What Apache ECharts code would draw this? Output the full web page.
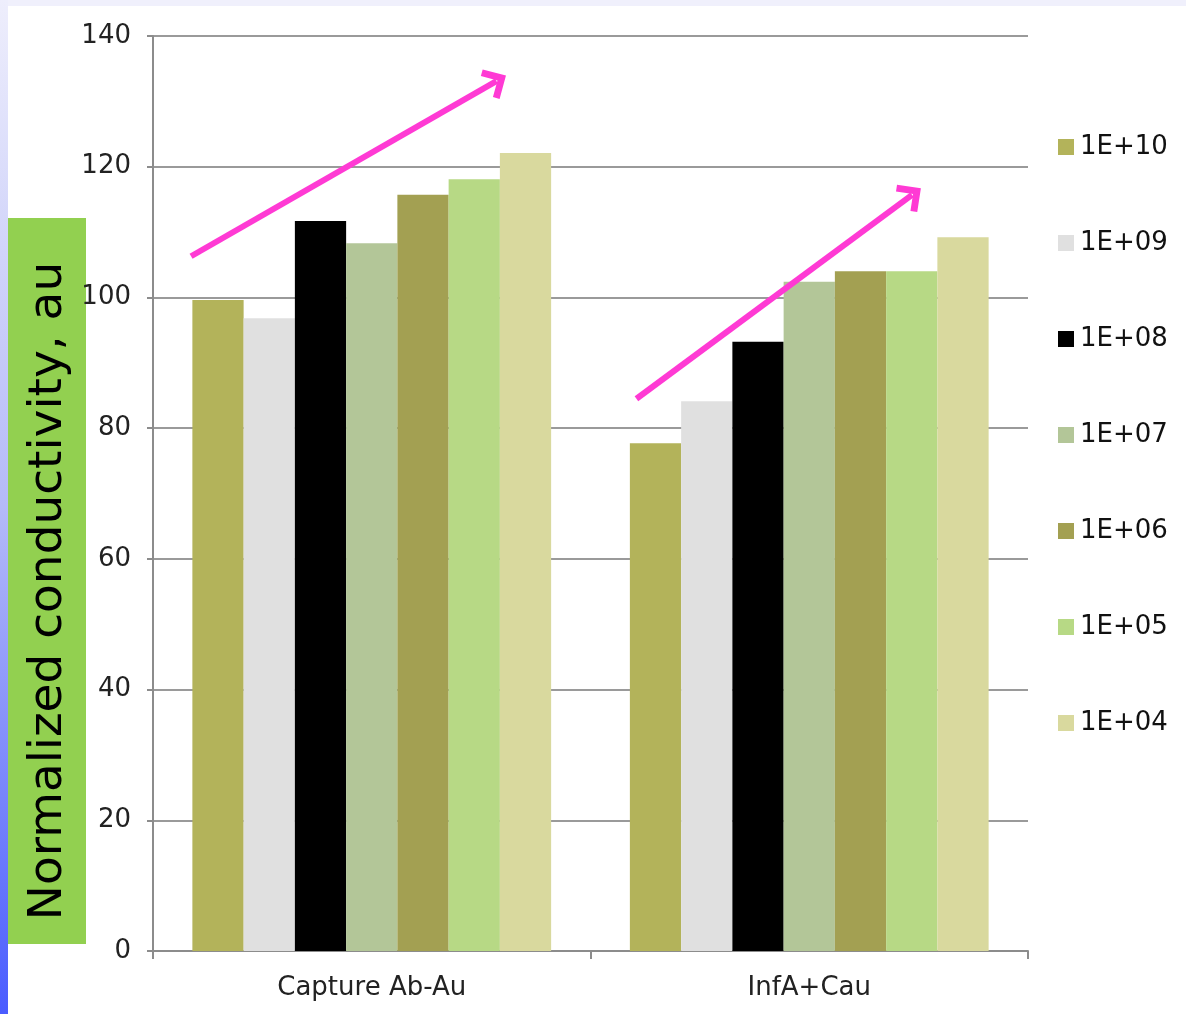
<!DOCTYPE html>
<html>
<head>
    <meta charset="utf-8">
    <title>Normalized conductivity</title>
    <script src="https://cdn.jsdelivr.net/npm/echarts@6/dist/echarts.min.js"></script>
    <style>
        html, body { margin: 0; padding: 0; }
    </style>
</head>
<body>
    <div id="main" style="width:1186px; height:1014px"></div>
    <script type="text/javascript">
        var categories = ['Capture Ab-Au', 'InfA+Cau'];
        var seriesNames = ['1E+10', '1E+09', '1E+08', '1E+07', '1E+06', '1E+05', '1E+04'];
        var seriesColors = ['#b3b35a', '#e0e0e0', '#000000', '#b3c698', '#a3a052', '#b7d985', '#d9d99e'];
        var captureValues = [99.6, 96.8, 111.7, 108.3, 115.7, 118.1, 122.1];
        var infaValues = [77.7, 84.1, 93.2, 102.4, 104.0, 104.0, 109.2];
        var yTicks = [0, 20, 40, 60, 80, 100, 120, 140];
        // trend arrows, x in category units (0..2), y in axis units
        var arrowCapture = [[0.087, 106.3], [0.785, 133.1]];
        var arrowInfa = [[1.105, 84.5], [1.735, 115.7]];

        var myChart = echarts.init(document.getElementById('main'));

        var series = seriesNames.map(function (name, i) {
            return {
                name: name,
                type: 'bar',
                barGap: '0%',
                barCategoryGap: '18%',
                itemStyle: { color: seriesColors[i] },
                emphasis: { disabled: true },
                data: [captureValues[i], infaValues[i]]
            };
        });

        series.push({
            name: 'arrows',
            type: 'line',
            xAxisIndex: 1,
            data: [arrowCapture[0], arrowInfa[0]],
            symbol: 'none',
            lineStyle: { width: 0, opacity: 0 },
            silent: true,
            markLine: {
                silent: true,
                symbol: ['none', 'path://M0,0 L14,14 L10,18 L0,8 L-10,18 L-14,14 Z'],
                symbolSize: [34, 22],
                label: { show: false },
                emphasis: { disabled: true },
                lineStyle: { color: '#ff3ad4', width: 6, type: 'solid' },
                itemStyle: { color: '#ff3ad4' },
                data: [
                    [{ coord: arrowCapture[0] }, { coord: arrowCapture[1] }],
                    [{ coord: arrowInfa[0] }, { coord: arrowInfa[1] }]
                ]
            }
        });

        var option = {
            backgroundColor: '#f0f0fc',
            animation: false,
            textStyle: { fontFamily: 'DejaVu Sans' },
            graphic: [
                {
                    type: 'rect', z: -10, silent: true,
                    shape: { x: 8, y: 6, width: 1178, height: 1008 },
                    style: { fill: '#ffffff' }
                },
                {
                    type: 'rect', z: -10, silent: true,
                    shape: { x: 0, y: 0, width: 8, height: 1014 },
                    style: {
                        fill: new echarts.graphic.LinearGradient(0, 0, 0, 1, [
                            { offset: 0, color: '#eeeefc' },
                            { offset: 0.5, color: '#b4baf8' },
                            { offset: 1, color: '#4a5cff' }
                        ])
                    }
                },
                {
                    type: 'rect', silent: true,
                    shape: { x: 8, y: 218, width: 78, height: 726 },
                    style: { fill: '#92d050' }
                },
                {
                    type: 'text', silent: true,
                    x: 49, y: 591,
                    rotation: Math.PI / 2,
                    style: {
                        text: 'Normalized conductivity, au',
                        fontFamily: 'DejaVu Sans',
                        fontSize: 47,
                        fill: '#000000',
                        align: 'center',
                        verticalAlign: 'middle'
                    }
                }
            ],
            legend: {
                orient: 'vertical',
                left: 1058,
                top: 134,
                padding: 0,
                itemWidth: 16,
                itemHeight: 16,
                itemGap: 70,
                icon: 'rect',
                selectedMode: false,
                data: seriesNames,
                textStyle: {
                    fontFamily: 'DejaVu Sans',
                    fontSize: 26,
                    lineHeight: 26,
                    color: '#111111',
                    padding: [0, 0, 0, 1]
                }
            },
            grid: {
                left: 153,
                right: 158,
                top: 36,
                bottom: 63,
                containLabel: false
            },
            xAxis: [
                {
                    type: 'category',
                    data: categories,
                    boundaryGap: true,
                    axisLine: { lineStyle: { color: '#8c8c8c', width: 2 } },
                    axisTick: { show: true, length: 8, lineStyle: { color: '#8c8c8c', width: 2 } },
                    axisLabel: {
                        margin: 24,
                        fontFamily: 'DejaVu Sans',
                        fontSize: 26,
                        color: '#222222'
                    },
                    splitLine: { show: false }
                },
                {
                    type: 'value',
                    min: 0,
                    max: 2,
                    show: false
                }
            ],
            yAxis: {
                type: 'value',
                min: yTicks[0],
                max: yTicks[yTicks.length - 1],
                interval: 20,
                axisLine: { show: true, lineStyle: { color: '#8c8c8c', width: 2 } },
                axisTick: { show: true, length: 6, lineStyle: { color: '#8c8c8c', width: 2 } },
                axisLabel: {
                    margin: 22,
                    fontFamily: 'DejaVu Sans',
                    fontSize: 26,
                    color: '#222222'
                },
                splitLine: { show: true, lineStyle: { color: '#9a9a9a', width: 2 } }
            },
            series: series
        };

        myChart.setOption(option);
    </script>
</body>
</html>
